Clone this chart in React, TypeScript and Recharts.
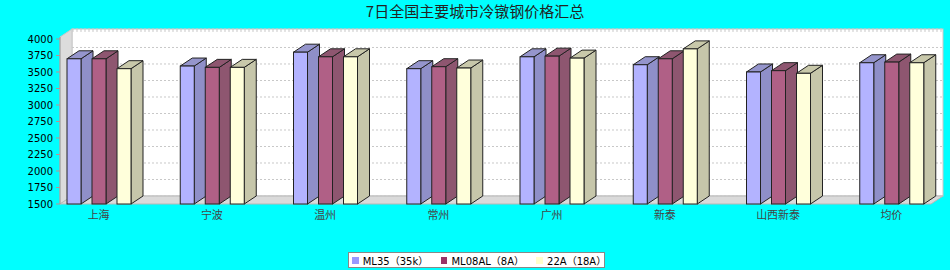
import React from "react"
import { BarChart, Bar, XAxis, YAxis, CartesianGrid } from "recharts"

const categories = ["上海", "宁波", "温州", "常州", "广州", "新泰", "山西新泰", "均价"]
const ml35 = [3700, 3590, 3800, 3550, 3730, 3610, 3500, 3640]
const ml08al = [3700, 3570, 3730, 3580, 3740, 3700, 3520, 3650]
const a22 = [3550, 3570, 3730, 3560, 3710, 3850, 3480, 3640]
const seriesNames = ["ML35（35k）", "ML08AL（8A）", "22A（18A）"]
const yTicks = [1500, 1750, 2000, 2250, 2500, 2750, 3000, 3250, 3500, 3750, 4000]

const data = categories.map((city, i) => ({ city, ml35: ml35[i], ml08al: ml08al[i], a22: a22[i] }))

// chart frame
const W = 950
const H = 270
const LEFT = 60
const RIGHT = 931
const TOP = 37
const BOTTOM = 204
const DX = 12
const DY = -8

const styles = [
  { key: "ml35", legend: "#9999ff", front: "#b3b3ff", side: "#8f8fc8", top: "#9595cc" },
  { key: "ml08al", legend: "#993366", front: "#b06086", side: "#8e5670", top: "#8e5670" },
  { key: "a22", legend: "#ffffcc", front: "#ffffdb", side: "#c6c6aa", top: "#c8c8aa" },
]

const bar3d = (s: (typeof styles)[number]) => (props: any) => {
  const { x, y, width: w, height: h } = props
  if (w == null || h == null) return <g />
  return (
    <g stroke="#222" strokeWidth={1}>
      <polygon
        points={`${x + w},${y} ${x + w + DX},${y + DY} ${x + w + DX},${y + h + DY} ${x + w},${y + h}`}
        fill={s.side}
      />
      <polygon points={`${x},${y} ${x + DX},${y + DY} ${x + w + DX},${y + DY} ${x + w},${y}`} fill={s.top} />
      <rect x={x} y={y} width={w} height={h} fill={s.front} />
    </g>
  )
}

const gridLine = (props: any) => (
  <line
    key={props.key}
    x1={props.x1 + DX}
    y1={props.y1 + DY}
    x2={props.x2 + DX}
    y2={props.y2 + DY}
    stroke="#c8c8c8"
    strokeDasharray="2 2"
  />
)

const CityTick = (props: any) => {
  const { x, y, payload } = props
  return (
    <text x={x} y={y + 7} textAnchor="middle" fontSize={11} fill="#444" fontFamily="'Noto Sans CJK SC', sans-serif">
      {payload.value}
    </text>
  )
}

export default function App() {
  return (
    <div style={{ position: "absolute", left: 0, top: 0, width: W, height: H, background: "#00ffff" }}>
      <svg width={W} height={H} style={{ position: "absolute", left: 0, top: 0 }}>
        <text
          x={475}
          y={17}
          textAnchor="middle"
          fontSize={15}
          fill="#222"
          fontFamily="'Noto Sans CJK SC', sans-serif"
        >
          7日全国主要城市冷镦钢价格汇总
        </text>
        <rect x={LEFT + DX} y={TOP + DY} width={RIGHT - LEFT} height={BOTTOM - TOP} fill="#fff" stroke="#c8c8c8" />
        <polygon
          points={`${LEFT},${TOP} ${LEFT + DX},${TOP + DY} ${LEFT + DX},${BOTTOM + DY} ${LEFT},${BOTTOM}`}
          fill="#dcdcdc"
          stroke="#c8c8c8"
        />
        <polygon
          points={`${LEFT},${BOTTOM} ${LEFT + DX},${BOTTOM + DY} ${RIGHT + DX},${BOTTOM + DY} ${RIGHT},${BOTTOM}`}
          fill="#dadada"
          stroke="#b8b8b8"
        />
      </svg>
      <div style={{ position: "absolute", left: 0, top: 0 }}>
        <BarChart
          width={W}
          height={H}
          data={data}
          margin={{ top: TOP, right: W - RIGHT, bottom: 0, left: 0 }}
          barGap={11}
        >
          <CartesianGrid vertical={false} horizontal={gridLine} />
          <XAxis
            dataKey="city"
            height={H - BOTTOM}
            axisLine={false}
            tickLine={false}
            padding={{ left: -18, right: -17 }}
            tick={<CityTick />}
            interval={0}
          />
          <YAxis
            width={LEFT}
            domain={[1500, 4030]}
            ticks={yTicks}
            interval={0}
            axisLine={{ stroke: "#999" }}
            tickLine={{ stroke: "#c09090" }}
            tickSize={4}
            tickMargin={3}
            tick={{ fontSize: 10, fill: "#000", fontFamily: "'DejaVu Sans', sans-serif" }}
          />
          {styles.map((s, i) => (
            <Bar
              key={s.key}
              dataKey={s.key}
              name={seriesNames[i]}
              barSize={14}
              shape={bar3d(s)}
              isAnimationActive={false}
            />
          ))}
        </BarChart>
      </div>
      <div
        style={{
          position: "absolute",
          left: 348,
          top: 252,
          width: 252,
          height: 14,
          border: "1px solid #888",
          background: "#fff",
          display: "flex",
          alignItems: "center",
          gap: 15,
          paddingLeft: 3,
          boxSizing: "content-box",
          fontSize: 10,
          fontFamily: "'DejaVu Sans', 'Noto Sans CJK SC', sans-serif",
          color: "#000",
        }}
      >
        {styles.map((s, i) => (
          <div key={s.key} style={{ display: "flex", alignItems: "center", gap: 4 }}>
            <span style={{ width: 7, height: 7, background: s.legend, display: "inline-block" }} />
            <span>{seriesNames[i]}</span>
          </div>
        ))}
      </div>
    </div>
  )
}
